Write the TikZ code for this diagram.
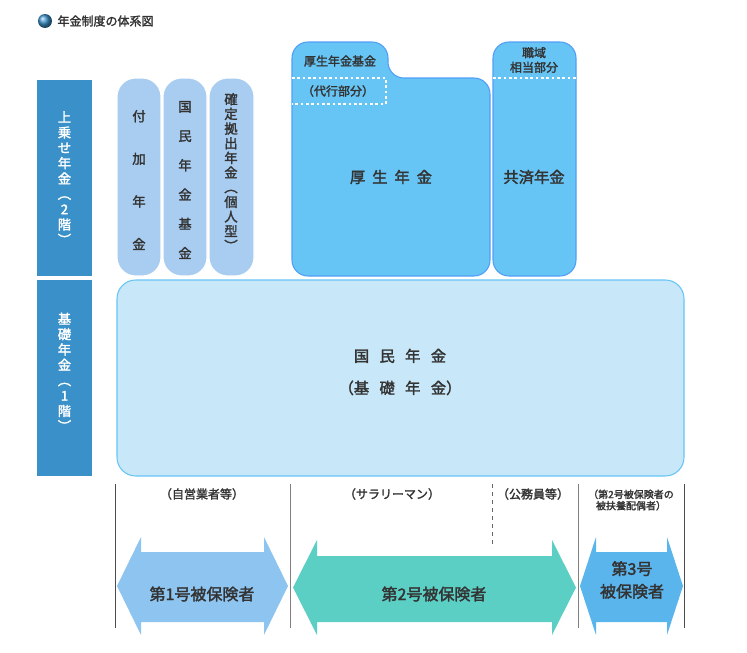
\documentclass[tikz,border=0pt]{standalone}
\usepackage{fontspec}
\newfontfamily\jp{Noto Sans CJK JP}[FakeBold=2]
\definecolor{bardark}{HTML}{3A90C8}
\definecolor{pill}{HTML}{A9CDF0}
\definecolor{kosei}{HTML}{66C5F5}
\definecolor{kokumin}{HTML}{C8E7F8}
\definecolor{arrowa}{HTML}{8EC5F0}
\definecolor{arrowb}{HTML}{5CCFC4}
\definecolor{arrowc}{HTML}{5AB5EC}
\definecolor{ink}{HTML}{333333}
\tikzset{
  txt/.style={font=\jp\fontsize{10}{12}\selectfont, text=ink, align=center, inner sep=0pt},
  small/.style={font=\jp\fontsize{9}{11}\selectfont, text=ink, align=center, inner sep=0pt},
  vert/.style={font=\jp\fontsize{10}{12.5}\selectfont, text=ink, align=center, inner sep=0pt},
}
\newcommand{\dblarrow}[7]{% x1 x2 shafttop shaftbot headtop headbot headlen
  \pgfmathsetmacro{\ymid}{(#5+#6)/2}
  \fill (#1,\ymid) -- (#1+#7,#5) -- (#1+#7,#3) -- (#2-#7,#3) -- (#2-#7,#5) -- (#2,\ymid)
    -- (#2-#7,#6) -- (#2-#7,#4) -- (#1+#7,#4) -- (#1+#7,#6) -- cycle;}
\begin{document}
\begin{tikzpicture}[x=0.75pt, y=-0.75pt, thick]
  \useasboundingbox (0,0) rectangle (747,653);
  % title
  \shade[ball color=bardark] (45,21) circle (7);
  \node (title) [txt, anchor=west, font=\jp\fontsize{9}{11}\selectfont] at (57,21) {年金制度の体系図};

  % left bars
  \fill[bardark] (37,80) rectangle (92,276);
  \fill[bardark] (37,280) rectangle (92,476);
  \node (upper) [vert, text=white, font=\jp\fontsize{10}{11.5}\selectfont] at (64.5,178) {上\\乗\\せ\\年\\金\\︵\\2\\階\\︶};
  \node (lower) [vert, text=white, font=\jp\fontsize{10}{11.5}\selectfont] at (64.5,372) {基\\礎\\年\\金\\︵\\1\\階\\︶};

  % second floor pills
  \filldraw[fill=pill, draw=white, rounded corners=14] (117,78) rectangle (161,276);
  \filldraw[fill=pill, draw=white, rounded corners=14] (163,78) rectangle (207,276);
  \filldraw[fill=pill, draw=white, rounded corners=14] (209,78) rectangle (254,276);
  \node (fuka) [vert, font=\jp\fontsize{10}{32}\selectfont] at (139,180) {付\\加\\年\\金};
  \node (kikin) [vert, font=\jp\fontsize{10}{22}\selectfont] at (185,180) {国\\民\\年\\金\\基\\金};
  \node (kakutei) [vert, font=\jp\fontsize{10}{11}\selectfont] at (231,172) {確\\定\\拠\\出\\年\\金\\︵\\個\\人\\型\\︶};

  % kosei nenkin
  \filldraw[fill=kosei, draw=kosei!80!blue, rounded corners=12]
    (292,276) -- (292,42) -- (388,42) -- (388,78) -- (490,78) -- (490,276) -- cycle;
  \draw[white, line width=2pt, dotted] (292,78) -- (386,78) -- (386,104) -- (292,104);
  \node (kikin2) [txt, font=\jp\fontsize{9}{11}\selectfont] at (340,61) {厚生年金基金};
  \node (daiko) [txt, font=\jp\fontsize{9}{11}\selectfont] at (338,91) {（代行部分）};
  \node (kosei) [txt, font=\jp\fontsize{11.5}{14}\selectfont] at (391,177) {厚\ \ 生\ \ 年\ \ 金};

  % kyosai nenkin
  \filldraw[fill=kosei, draw=kosei!80!blue, rounded corners=12] (493,42) rectangle (576,276);
  \draw[white, line width=2pt, dotted] (493,78) -- (576,78);
  \node (shokuiki) [small] at (534,60) {職域\\相当部分};
  \node (kyosai) [txt, font=\jp\fontsize{11.5}{14}\selectfont] at (534,177) {共済年金};

  % first floor
  \filldraw[fill=kokumin, draw=kosei, rounded corners=14] (117,280) rectangle (684,476);
  \node (kokumin) [txt, font=\jp\fontsize{11.5}{24}\selectfont] at (400,372) {国\ \ \ 民\ \ \ 年\ \ \ 金\\（基\ \ \ 礎\ \ \ 年\ \ \ 金）};

  % separators
  \draw[thin, black!70] (115,484) -- (115,628);
  \draw[thin, black!50] (290,484) -- (290,628);
  \draw[thin, black!50] (578,484) -- (578,628);
  \draw[thin, black!70] (684,484) -- (684,628);
  \draw[thin, black!60, dashed] (492,484) -- (492,548);

  % groups
  \node (jiei) [small] at (202,494) {（自営業者等）};
  \node (salary) [small] at (392,494) {（サラリーマン）};
  \node (komuin) [small] at (533,494) {（公務員等）};
  \node (haigu) [small, font=\jp\fontsize{7.5}{8.5}\selectfont] at (631,500) {（第2号被保険者の\\被扶養配偶者）};

  % arrows
  \begin{scope}[fill=arrowa] \dblarrow{117}{288}{552}{622}{537}{635}{24} \end{scope}
  \begin{scope}[fill=arrowb] \dblarrow{293}{576}{556}{622}{540}{635}{24} \end{scope}
  \begin{scope}[fill=arrowc] \dblarrow{580}{683}{552}{622}{537}{635}{16} \end{scope}
  \node (dai1) [txt, font=\jp\fontsize{12}{14}\selectfont] at (202,594) {第1号被保険者};
  \node (dai2) [txt, font=\jp\fontsize{12}{14}\selectfont] at (434,594) {第2号被保険者};
  \node (dai3) [txt, font=\jp\fontsize{12}{17}\selectfont] at (632,580) {第3号\\被保険者};
\end{tikzpicture}
\end{document}
